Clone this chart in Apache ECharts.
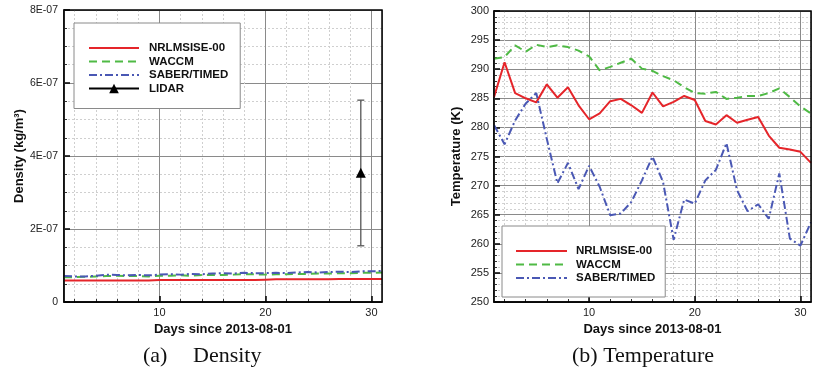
<!DOCTYPE html>
<html>
<head>
<meta charset="utf-8">
<script src="https://cdn.jsdelivr.net/npm/echarts@6/dist/echarts.min.js"></script>
<style>
html,body{margin:0;padding:0;background:#fff;}
#c{width:817px;height:370px;}
</style>
</head>
<body>
<div id="c"></div>
<script>
// ---- data ----
const days = [1,2,3,4,5,6,7,8,9,10,11,12,13,14,15,16,17,18,19,20,21,22,23,24,25,26,27,28,29,30,31];

const densNRL = [5.9e-8,5.9e-8,5.9e-8,5.9e-8,5.9e-8,5.9e-8,5.9e-8,5.9e-8,5.9e-8,6.0e-8,6.0e-8,6.0e-8,6.0e-8,6.0e-8,6.0e-8,6.0e-8,6.0e-8,6.0e-8,6.0e-8,6.1e-8,6.2e-8,6.2e-8,6.2e-8,6.2e-8,6.2e-8,6.2e-8,6.3e-8,6.3e-8,6.3e-8,6.3e-8,6.3e-8];
const densWACCM = [6.8e-8,6.8e-8,6.9e-8,7.0e-8,7.1e-8,7.2e-8,7.1e-8,7.1e-8,7.0e-8,7.2e-8,7.2e-8,7.3e-8,7.2e-8,7.4e-8,7.4e-8,7.4e-8,7.5e-8,7.6e-8,7.6e-8,7.5e-8,7.6e-8,7.6e-8,7.7e-8,7.7e-8,7.8e-8,7.8e-8,7.9e-8,7.9e-8,8.0e-8,8.0e-8,8.1e-8];
const densSABER = [7.1e-8,7.0e-8,7.0e-8,7.2e-8,7.5e-8,7.4e-8,7.3e-8,7.4e-8,7.3e-8,7.5e-8,7.6e-8,7.5e-8,7.7e-8,7.6e-8,7.8e-8,7.9e-8,7.8e-8,8.0e-8,7.9e-8,7.9e-8,8.0e-8,7.9e-8,8.1e-8,8.2e-8,8.1e-8,8.2e-8,8.3e-8,8.2e-8,8.4e-8,8.4e-8,8.5e-8];
const lidarDay = [29];
const lidarDens = [3.54e-7];
const lidarLow = [1.54e-7];
const lidarHigh = [5.53e-7];

const tempNRL = [285.2,291.2,285.9,285.0,284.3,287.4,285.1,286.9,283.8,281.4,282.4,284.5,284.9,283.8,282.5,286.0,283.6,284.4,285.4,284.7,281.1,280.5,282.1,280.8,281.3,281.8,278.6,276.5,276.2,275.8,273.9];
const tempWACCM = [291.8,292.1,294.1,293.0,294.2,293.8,294.1,293.8,293.2,292.2,289.8,290.4,291.1,291.8,290.1,289.7,288.8,288.1,286.9,285.9,285.8,286.1,284.9,285.1,285.4,285.4,285.9,286.7,285.2,283.6,282.4];
const tempSABER = [280.4,277.1,281.2,284.1,285.9,278.0,270.4,273.9,269.4,273.4,269.8,264.9,265.2,267.2,270.9,275.0,270.6,260.7,267.6,266.9,270.9,272.7,277.3,269.2,265.6,266.8,264.3,272.1,260.9,259.7,263.7];

const seriesNames = ['NRLMSISE-00','WACCM','SABER/TIMED','LIDAR'];
const densTicks = ['0','2E-07','4E-07','6E-07','8E-07'];

// ---- styles ----
const RED = '#e5252a', GREEN = '#4fba45', BLUE = '#4a58b4';
const FONT = 'Liberation Sans, Arial, sans-serif';
const zip = (a, b) => a.map((v, i) => [v, b[i]]);
const lineOnly = (name) => ({name:name, itemStyle:{opacity:0, color:'transparent', borderColor:'transparent'}});

function mainX(grid) {
  return {
    type:'value', gridIndex:grid, min:1, max:31, splitNumber:3, position:'bottom', z:2,
    axisLine:{show:true, lineStyle:{color:'#000', width:1.5}},
    axisTick:{show:true, inside:true, length:6, lineStyle:{color:'#000', width:1.5}},
    axisLabel:{color:'#222', fontFamily:FONT, fontSize:11, margin:5, showMinLabel:false, showMaxLabel:false},
    splitLine:{show:true, lineStyle:{color:'#8a8a8a', width:1}},
    name:'Days since 2013-08-01', nameLocation:'middle', nameGap:21,
    nameTextStyle:{color:'#111', fontFamily:FONT, fontWeight:'bold', fontSize:13}
  };
}
function minorX(grid) {
  return {
    type:'value', gridIndex:grid, min:1, max:31, splitNumber:15, position:'bottom', z:1,
    axisLine:{show:false},
    axisTick:{show:true, inside:true, length:3, lineStyle:{color:'#333', width:1}},
    axisLabel:{show:false},
    splitLine:{show:true, lineStyle:{color:'#cfcfcf', width:1, type:[2,2]}}
  };
}

const option = {
  animation:false,
  backgroundColor:'#fff',
  title:[
    {text:'(a)', left:143, top:345, padding:0, textStyle:{fontFamily:'Liberation Serif, Times New Roman, serif', fontWeight:'normal', fontSize:22, color:'#111'}},
    {text:'Density', left:193, top:345, padding:0, textStyle:{fontFamily:'Liberation Serif, Times New Roman, serif', fontWeight:'normal', fontSize:22, color:'#111'}},
    {text:'(b) Temperature', left:572, top:345, padding:0, textStyle:{fontFamily:'Liberation Serif, Times New Roman, serif', fontWeight:'normal', fontSize:22, color:'#111'}}
  ],
  grid:[
    {left:64, top:10, width:318, height:292, show:true, z:10, borderColor:'#000', borderWidth:1.5, backgroundColor:'transparent'},
    {left:494, top:11, width:317, height:291, show:true, z:10, borderColor:'#000', borderWidth:1.5, backgroundColor:'transparent'}
  ],
  xAxis:[ mainX(0), minorX(0), mainX(1), minorX(1) ],
  yAxis:[
    {
      type:'value', gridIndex:0, min:0, max:8e-7, interval:2e-7,
      axisLine:{show:true, lineStyle:{color:'#000', width:1.5}},
      axisTick:{show:true, inside:true, length:6, lineStyle:{color:'#000', width:1.5}},
      minorTick:{show:true, splitNumber:4, length:3, lineStyle:{color:'#333'}},
      axisLabel:{color:'#222', fontFamily:FONT, fontSize:10.5, margin:6,
        formatter:(v) => densTicks[Math.round(v / 2e-7)]},
      splitLine:{show:true, lineStyle:{color:'#8a8a8a', width:1}},
      minorSplitLine:{show:true, lineStyle:{color:'#cfcfcf', width:1, type:[2,2]}},
      name:'Density (kg/m³)', nameLocation:'middle', nameGap:36, nameRotate:90,
      nameTextStyle:{color:'#111', fontFamily:FONT, fontWeight:'bold', fontSize:13}
    },
    {
      type:'value', gridIndex:1, min:250, max:300, interval:5,
      axisLine:{show:true, lineStyle:{color:'#000', width:1.5}},
      axisTick:{show:true, inside:true, length:6, lineStyle:{color:'#000', width:1.5}},
      minorTick:{show:true, splitNumber:5, length:3, lineStyle:{color:'#333'}},
      axisLabel:{color:'#222', fontFamily:FONT, fontSize:11, margin:5},
      splitLine:{show:true, lineStyle:{color:'#8a8a8a', width:1}},
      minorSplitLine:{show:true, lineStyle:{color:'#d2d2d2', width:1, type:[2,2]}},
      name:'Temperature (K)', nameLocation:'middle', nameGap:31, nameRotate:90,
      nameTextStyle:{color:'#111', fontFamily:FONT, fontWeight:'bold', fontSize:13}
    }
  ],
  legend:[
    {
      data:[lineOnly(seriesNames[0]), lineOnly(seriesNames[1]), lineOnly(seriesNames[2]), {name:seriesNames[3]}],
      orient:'vertical', left:74, top:23,
      padding:[19,12,14,14], itemWidth:50, itemHeight:12, itemGap:1.5,
      backgroundColor:'#fff', borderColor:'#8a8a8a', borderWidth:1, z:20,
      selectedMode:false,
      textStyle:{color:'#111', fontFamily:FONT, fontWeight:'bold', fontSize:11.5, padding:[0,0,0,5], lineHeight:12}
    },
    {
      data:[lineOnly(seriesNames[0]), lineOnly(seriesNames[1]), lineOnly(seriesNames[2])],
      orient:'vertical', left:502, top:226,
      padding:[19,10,13,13], itemWidth:51, itemHeight:12, itemGap:1.5,
      backgroundColor:'#fff', borderColor:'#8a8a8a', borderWidth:1, z:20,
      selectedMode:false,
      textStyle:{color:'#111', fontFamily:FONT, fontWeight:'bold', fontSize:11.5, padding:[0,0,0,4], lineHeight:12}
    }
  ],
  series:[
    {name:'NRLMSISE-00', type:'line', xAxisIndex:0, yAxisIndex:0, data:zip(days, densNRL), symbol:'none', z:5,
      lineStyle:{color:RED, width:2}, itemStyle:{color:RED}},
    {name:'WACCM', type:'line', xAxisIndex:0, yAxisIndex:0, data:zip(days, densWACCM), symbol:'none', z:5,
      lineStyle:{color:GREEN, width:2, type:[8,5]}, itemStyle:{color:GREEN}},
    {name:'SABER/TIMED', type:'line', xAxisIndex:0, yAxisIndex:0, data:zip(days, densSABER), symbol:'none', z:5,
      lineStyle:{color:BLUE, width:2, type:[8,3,2,3]}, itemStyle:{color:BLUE}},
    {name:'LIDAR', type:'line', xAxisIndex:0, yAxisIndex:0, data:zip(lidarDay, lidarDens), symbol:'triangle', symbolSize:10, z:6,
      lineStyle:{color:'#000', width:1.5}, itemStyle:{color:'#000'}},
    {name:'LIDAR error', type:'custom', xAxisIndex:0, yAxisIndex:0, z:5,
      data:lidarDay.map((d, i) => [d, lidarLow[i], lidarHigh[i]]),
      encode:{x:0, y:[1,2]},
      renderItem:function(params, api){
        const x = api.value(0);
        const lo = api.coord([x, api.value(1)]);
        const hi = api.coord([x, api.value(2)]);
        const w = 3.5;
        const st = {stroke:'#555', lineWidth:1.3};
        return {type:'group', children:[
          {type:'line', shape:{x1:lo[0], y1:lo[1], x2:hi[0], y2:hi[1]}, style:st},
          {type:'line', shape:{x1:lo[0]-w, y1:lo[1], x2:lo[0]+w, y2:lo[1]}, style:st},
          {type:'line', shape:{x1:hi[0]-w, y1:hi[1], x2:hi[0]+w, y2:hi[1]}, style:st}
        ]};
      }
    },
    {name:'NRLMSISE-00', type:'line', xAxisIndex:2, yAxisIndex:1, data:zip(days, tempNRL), symbol:'none', z:5,
      lineStyle:{color:RED, width:2}, itemStyle:{color:RED}},
    {name:'WACCM', type:'line', xAxisIndex:2, yAxisIndex:1, data:zip(days, tempWACCM), symbol:'none', z:5,
      lineStyle:{color:GREEN, width:2, type:[8,5]}, itemStyle:{color:GREEN}},
    {name:'SABER/TIMED', type:'line', xAxisIndex:2, yAxisIndex:1, data:zip(days, tempSABER), symbol:'none', z:5,
      lineStyle:{color:BLUE, width:2, type:[8,3,2,3]}, itemStyle:{color:BLUE}}
  ]
};

const chart = echarts.init(document.getElementById('c'), null, {renderer:'canvas'});
chart.setOption(option);
</script>
</body>
</html>
